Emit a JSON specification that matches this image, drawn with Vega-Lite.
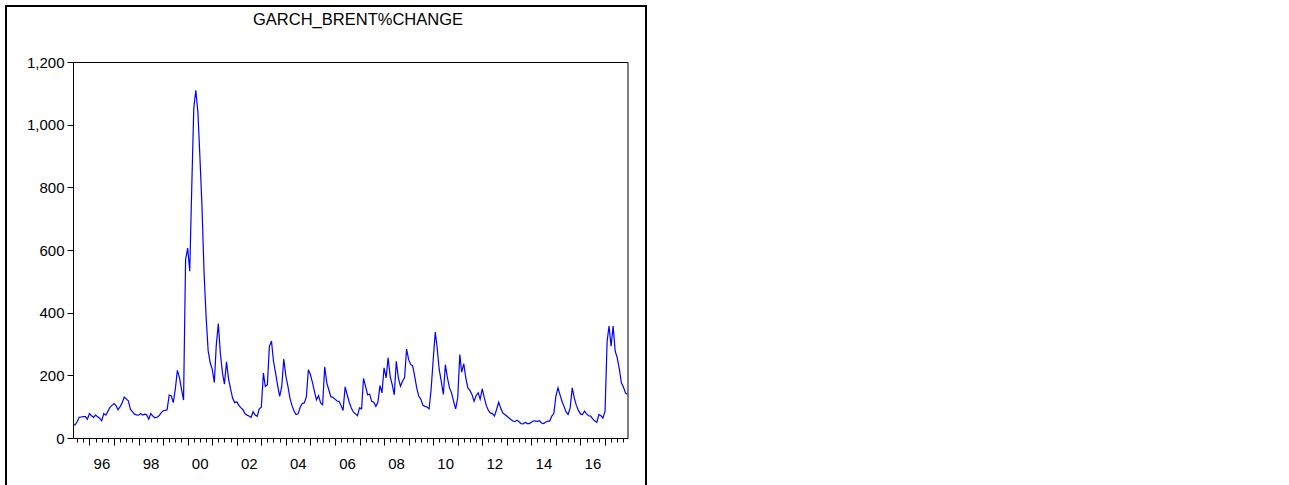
{
  "$schema": "https://vega.github.io/schema/vega-lite/v6.json",
  "padding": {"left": 5, "top": 5, "right": 0, "bottom": 0},
  "autosize": {"type": "pad"},
  "background": "white",
  "config": {
    "view": {"stroke": "black", "strokeWidth": 2},
    "concat": {"spacing": 0},
    "font": "Liberation Sans",
    "axis": {"domainColor": "black", "tickColor": "black", "labelColor": "black", "grid": false, "title": null, "labelFont": "Liberation Sans"}
  },
  "datasets": {
    "garch": [
      {"date":"1995-05-01","value":42},{"date":"1995-06-01","value":42},{"date":"1995-07-01","value":52},{"date":"1995-08-01","value":66},{"date":"1995-09-01","value":67},{"date":"1995-10-01","value":68},{"date":"1995-11-01","value":68},{"date":"1995-12-01","value":60},
      {"date":"1996-01-01","value":78},{"date":"1996-02-01","value":71},{"date":"1996-03-01","value":66},{"date":"1996-04-01","value":73},{"date":"1996-05-01","value":68},{"date":"1996-06-01","value":63},{"date":"1996-07-01","value":55},{"date":"1996-08-01","value":78},{"date":"1996-09-01","value":73},{"date":"1996-10-01","value":85},{"date":"1996-11-01","value":98},{"date":"1996-12-01","value":104},
      {"date":"1997-01-01","value":110},{"date":"1997-02-01","value":103},{"date":"1997-03-01","value":90},{"date":"1997-04-01","value":100},{"date":"1997-05-01","value":112},{"date":"1997-06-01","value":131},{"date":"1997-07-01","value":125},{"date":"1997-08-01","value":119},{"date":"1997-09-01","value":92},{"date":"1997-10-01","value":84},{"date":"1997-11-01","value":76},{"date":"1997-12-01","value":74},
      {"date":"1998-01-01","value":73},{"date":"1998-02-01","value":78},{"date":"1998-03-01","value":73},{"date":"1998-04-01","value":76},{"date":"1998-05-01","value":74},{"date":"1998-06-01","value":60},{"date":"1998-07-01","value":78},{"date":"1998-08-01","value":70},{"date":"1998-09-01","value":64},{"date":"1998-10-01","value":66},{"date":"1998-11-01","value":71},{"date":"1998-12-01","value":80},
      {"date":"1999-01-01","value":87},{"date":"1999-02-01","value":88},{"date":"1999-03-01","value":90},{"date":"1999-04-01","value":137},{"date":"1999-05-01","value":135},{"date":"1999-06-01","value":113},{"date":"1999-07-01","value":156},{"date":"1999-08-01","value":216},{"date":"1999-09-01","value":193},{"date":"1999-10-01","value":156},{"date":"1999-11-01","value":121},{"date":"1999-12-01","value":569},
      {"date":"2000-01-01","value":606},{"date":"2000-02-01","value":532},{"date":"2000-03-01","value":792},{"date":"2000-04-01","value":1052},{"date":"2000-05-01","value":1110},{"date":"2000-06-01","value":1041},{"date":"2000-07-01","value":898},{"date":"2000-08-01","value":739},{"date":"2000-09-01","value":527},{"date":"2000-10-01","value":389},{"date":"2000-11-01","value":278},{"date":"2000-12-01","value":241},
      {"date":"2001-01-01","value":219},{"date":"2001-02-01","value":177},{"date":"2001-03-01","value":294},{"date":"2001-04-01","value":365},{"date":"2001-05-01","value":272},{"date":"2001-06-01","value":209},{"date":"2001-07-01","value":172},{"date":"2001-08-01","value":243},{"date":"2001-09-01","value":188},{"date":"2001-10-01","value":156},{"date":"2001-11-01","value":126},{"date":"2001-12-01","value":113},
      {"date":"2002-01-01","value":116},{"date":"2002-02-01","value":104},{"date":"2002-03-01","value":97},{"date":"2002-04-01","value":91},{"date":"2002-05-01","value":78},{"date":"2002-06-01","value":73},{"date":"2002-07-01","value":70},{"date":"2002-08-01","value":66},{"date":"2002-09-01","value":84},{"date":"2002-10-01","value":73},{"date":"2002-11-01","value":69},{"date":"2002-12-01","value":93},
      {"date":"2003-01-01","value":98},{"date":"2003-02-01","value":207},{"date":"2003-03-01","value":165},{"date":"2003-04-01","value":170},{"date":"2003-05-01","value":293},{"date":"2003-06-01","value":309},{"date":"2003-07-01","value":245},{"date":"2003-08-01","value":207},{"date":"2003-09-01","value":167},{"date":"2003-10-01","value":133},{"date":"2003-11-01","value":165},{"date":"2003-12-01","value":252},
      {"date":"2004-01-01","value":197},{"date":"2004-02-01","value":165},{"date":"2004-03-01","value":128},{"date":"2004-04-01","value":104},{"date":"2004-05-01","value":86},{"date":"2004-06-01","value":75},{"date":"2004-07-01","value":77},{"date":"2004-08-01","value":98},{"date":"2004-09-01","value":110},{"date":"2004-10-01","value":112},{"date":"2004-11-01","value":131},{"date":"2004-12-01","value":218},
      {"date":"2005-01-01","value":202},{"date":"2005-02-01","value":176},{"date":"2005-03-01","value":149},{"date":"2005-04-01","value":122},{"date":"2005-05-01","value":135},{"date":"2005-06-01","value":112},{"date":"2005-07-01","value":106},{"date":"2005-08-01","value":227},{"date":"2005-09-01","value":176},{"date":"2005-10-01","value":154},{"date":"2005-11-01","value":131},{"date":"2005-12-01","value":130},
      {"date":"2006-01-01","value":124},{"date":"2006-02-01","value":118},{"date":"2006-03-01","value":117},{"date":"2006-04-01","value":104},{"date":"2006-05-01","value":88},{"date":"2006-06-01","value":163},{"date":"2006-07-01","value":138},{"date":"2006-08-01","value":114},{"date":"2006-09-01","value":96},{"date":"2006-10-01","value":83},{"date":"2006-11-01","value":77},{"date":"2006-12-01","value":71},
      {"date":"2007-01-01","value":96},{"date":"2007-02-01","value":93},{"date":"2007-03-01","value":190},{"date":"2007-04-01","value":165},{"date":"2007-05-01","value":138},{"date":"2007-06-01","value":140},{"date":"2007-07-01","value":117},{"date":"2007-08-01","value":114},{"date":"2007-09-01","value":101},{"date":"2007-10-01","value":114},{"date":"2007-11-01","value":167},{"date":"2007-12-01","value":144},
      {"date":"2008-01-01","value":224},{"date":"2008-02-01","value":192},{"date":"2008-03-01","value":256},{"date":"2008-04-01","value":197},{"date":"2008-05-01","value":170},{"date":"2008-06-01","value":138},{"date":"2008-07-01","value":245},{"date":"2008-08-01","value":192},{"date":"2008-09-01","value":165},{"date":"2008-10-01","value":181},{"date":"2008-11-01","value":192},{"date":"2008-12-01","value":284},
      {"date":"2009-01-01","value":250},{"date":"2009-02-01","value":234},{"date":"2009-03-01","value":231},{"date":"2009-04-01","value":197},{"date":"2009-05-01","value":160},{"date":"2009-06-01","value":133},{"date":"2009-07-01","value":124},{"date":"2009-08-01","value":104},{"date":"2009-09-01","value":101},{"date":"2009-10-01","value":99},{"date":"2009-11-01","value":93},{"date":"2009-12-01","value":154},
      {"date":"2010-01-01","value":250},{"date":"2010-02-01","value":338},{"date":"2010-03-01","value":288},{"date":"2010-04-01","value":218},{"date":"2010-05-01","value":181},{"date":"2010-06-01","value":139},{"date":"2010-07-01","value":234},{"date":"2010-08-01","value":192},{"date":"2010-09-01","value":160},{"date":"2010-10-01","value":144},{"date":"2010-11-01","value":117},{"date":"2010-12-01","value":93},
      {"date":"2011-01-01","value":128},{"date":"2011-02-01","value":266},{"date":"2011-03-01","value":210},{"date":"2011-04-01","value":237},{"date":"2011-05-01","value":192},{"date":"2011-06-01","value":160},{"date":"2011-07-01","value":152},{"date":"2011-08-01","value":139},{"date":"2011-09-01","value":117},{"date":"2011-10-01","value":135},{"date":"2011-11-01","value":144},{"date":"2011-12-01","value":124},
      {"date":"2012-01-01","value":157},{"date":"2012-02-01","value":128},{"date":"2012-03-01","value":104},{"date":"2012-04-01","value":88},{"date":"2012-05-01","value":80},{"date":"2012-06-01","value":78},{"date":"2012-07-01","value":70},{"date":"2012-08-01","value":91},{"date":"2012-09-01","value":114},{"date":"2012-10-01","value":96},{"date":"2012-11-01","value":80},{"date":"2012-12-01","value":75},
      {"date":"2013-01-01","value":70},{"date":"2013-02-01","value":64},{"date":"2013-03-01","value":59},{"date":"2013-04-01","value":54},{"date":"2013-05-01","value":52},{"date":"2013-06-01","value":57},{"date":"2013-07-01","value":52},{"date":"2013-08-01","value":46},{"date":"2013-09-01","value":45},{"date":"2013-10-01","value":50},{"date":"2013-11-01","value":46},{"date":"2013-12-01","value":46},
      {"date":"2014-01-01","value":50},{"date":"2014-02-01","value":55},{"date":"2014-03-01","value":54},{"date":"2014-04-01","value":53},{"date":"2014-05-01","value":55},{"date":"2014-06-01","value":48},{"date":"2014-07-01","value":46},{"date":"2014-08-01","value":50},{"date":"2014-09-01","value":54},{"date":"2014-10-01","value":54},{"date":"2014-11-01","value":70},{"date":"2014-12-01","value":78},
      {"date":"2015-01-01","value":134},{"date":"2015-02-01","value":160},{"date":"2015-03-01","value":139},{"date":"2015-04-01","value":117},{"date":"2015-05-01","value":101},{"date":"2015-06-01","value":83},{"date":"2015-07-01","value":75},{"date":"2015-08-01","value":96},{"date":"2015-09-01","value":160},{"date":"2015-10-01","value":128},{"date":"2015-11-01","value":104},{"date":"2015-12-01","value":88},
      {"date":"2016-01-01","value":77},{"date":"2016-02-01","value":75},{"date":"2016-03-01","value":86},{"date":"2016-04-01","value":77},{"date":"2016-05-01","value":71},{"date":"2016-06-01","value":70},{"date":"2016-07-01","value":61},{"date":"2016-08-01","value":54},{"date":"2016-09-01","value":50},{"date":"2016-10-01","value":75},{"date":"2016-11-01","value":71},{"date":"2016-12-01","value":64},
      {"date":"2017-01-01","value":86},{"date":"2017-02-01","value":309},{"date":"2017-03-01","value":357},{"date":"2017-04-01","value":293},{"date":"2017-05-01","value":357},{"date":"2017-06-01","value":277},{"date":"2017-07-01","value":256},{"date":"2017-08-01","value":221},{"date":"2017-09-01","value":176},{"date":"2017-10-01","value":163},{"date":"2017-11-01","value":144},{"date":"2017-12-01","value":139}
    ]
  },
  "hconcat": [
    {
      "width": 640,
      "height": 485,
      "title": {"text": "GARCH_BRENT%CHANGE", "frame": "group", "anchor": "middle", "offset": -22, "dx": 32, "fontSize": 16.5, "fontWeight": "normal", "font": "Liberation Sans", "color": "black"},
      "data": {"name": "garch"},
      "layer": [
        {
          "mark": {"type": "line", "color": "#0000FF", "strokeWidth": 1.2},
          "encoding": {
            "x": {
              "field": "date", "type": "temporal",
              "scale": {"type": "utc", "range": [67, 621.5], "nice": false},
              "axis": {
                "orient": "bottom", "offset": -53,
                "tickCount": {"interval": "month", "step": 3},
                "tickSize": {"condition": {"test": "utcmonth(datum.value) == 0", "value": 7}, "value": 4},
                "labelExpr": "utcmonth(datum.value) == 0 && utcyear(datum.value) % 2 == 0 ? utcFormat(datum.value, '%y') : ''",
                "labelOffset": 12, "labelOverlap": false, "labelFlush": false,
                "labelFontSize": 15, "labelPadding": 11, "labelAngle": 0
              }
            },
            "y": {
              "field": "value", "type": "quantitative",
              "scale": {"domain": [0, 1200], "range": [432, 56], "nice": false, "zero": true},
              "axis": {
                "orient": "left", "offset": -67,
                "values": [0, 200, 400, 600, 800, 1000, 1200],
                "format": ",.0f", "tickSize": 6, "labelPadding": 3, "labelFontSize": 15
              }
            }
          }
        },
        {
          "mark": {"type": "line", "strokeOpacity": 0},
          "encoding": {
            "x": {"field": "date", "type": "temporal", "axis": {"orient": "top", "offset": -56, "ticks": false, "labels": false}},
            "y": {"field": "value", "type": "quantitative", "axis": {"orient": "right", "offset": -18.5, "ticks": false, "labels": false}}
          }
        }
      ],
      "resolve": {"axis": {"x": "independent", "y": "independent"}}
    },
    {
      "width": 650,
      "height": 485,
      "data": {"values": []},
      "mark": "point",
      "encoding": {}
    }
  ]
}
